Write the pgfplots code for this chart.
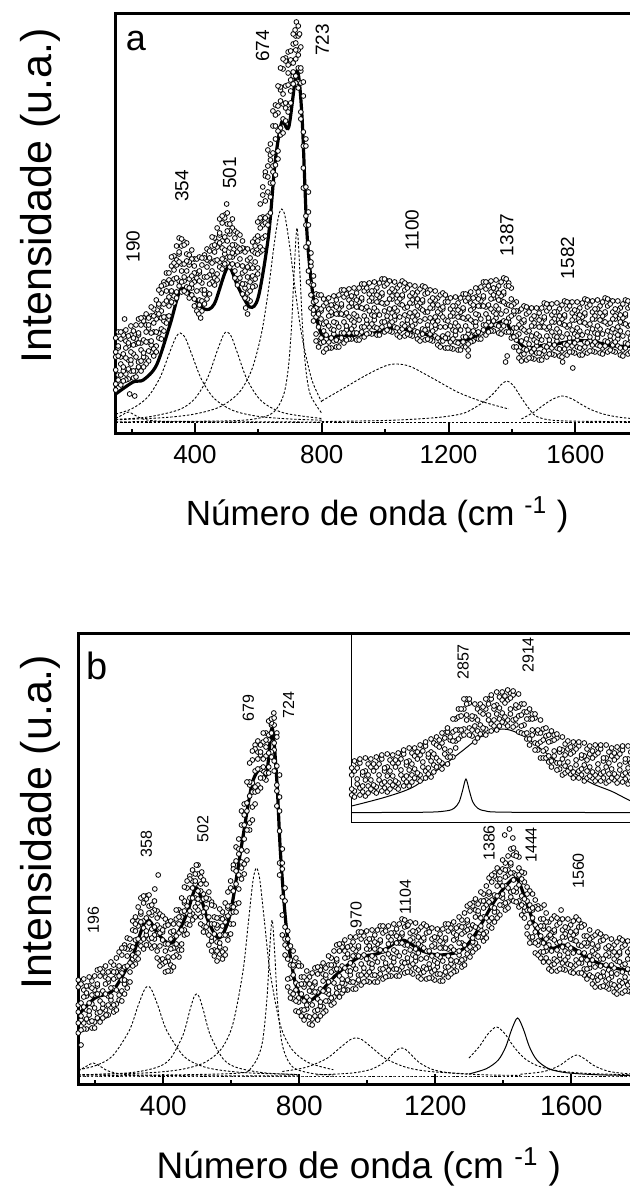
\documentclass[border=0pt]{standalone}
\usepackage{pgfplots}
\pgfplotsset{compat=1.18}
\usepackage{pgfplotstable}
\usepackage{fontspec}
\setmainfont{Liberation Sans}

% ---------------- panel a scatter ----------------
\pgfplotstableread{
x a b c d e f
150 50 77 96 82 64 44
158 86 59 102 54 88 78
166 70 95 49 77 59 102
174 102 67 80 63 99 53
182 60 93 76 104 54 86
190 88 55 98 74 91 65
198 70 108 74 99 63 82
206 103 80 63 56 89 96
214 63 90 109 95 77 57
222 99 72 115 67 101 91
230 84 109 63 91 73 116
238 116 81 94 77 113 67
246 76 109 92 120 70 102
254 106 73 116 92 109 83
262 89 127 93 118 82 101
270 125 102 85 78 111 118
278 88 115 134 120 102 82
286 128 101 144 96 130 120
294 116 141 95 123 105 148
302 152 117 130 113 149 103
310 117 150 133 161 111 143
318 151 118 161 137 154 128
326 139 177 143 168 132 151
334 178 155 138 131 164 171
342 142 169 188 174 156 136
350 180 153 196 148 182 172
358 163 188 142 170 152 195
366 192 157 170 153 189 143
374 147 180 163 191 141 173
382 169 136 179 155 172 146
390 146 184 150 175 139 158
398 175 152 135 128 161 168
406 129 156 175 161 143 123
414 161 134 177 129 163 153
422 144 169 123 151 133 176
430 179 144 157 140 176 130
438 141 174 157 185 135 167
446 173 140 183 159 176 150
454 159 197 163 188 152 171
462 196 173 156 149 182 189
470 160 187 206 192 174 154
478 199 172 215 167 201 191
486 186 211 165 193 175 218
494 219 184 197 180 216 170
502 177 210 193 221 171 203
510 200 167 210 186 203 177
518 177 215 181 206 170 189
526 203 180 163 156 189 196
534 155 182 201 187 169 149
542 183 156 199 151 185 175
550 161 186 140 168 150 193
558 185 150 163 146 182 136
566 141 174 157 185 135 167
574 166 133 176 152 169 143
582 154 192 158 183 147 166
590 195 172 155 148 181 188
598 166 193 212 198 180 160
606 214 187 230 182 216 206
614 209 239 184 217 196 247
622 262 216 233 211 258 198
630 218 268 242 284 209 257
638 274 221 290 251 279 237
646 262 323 268 308 251 281
654 329 295 269 259 308 319
662 283 321 348 328 303 275
670 344 306 366 299 347 333
678 330 365 301 340 315 375
686 376 331 348 326 373 313
694 329 369 349 382 322 361
702 371 331 383 354 374 343
710 358 400 362 390 350 371
718 398 375 358 351 384 391
726 352 379 398 384 366 346
734 363 322 387 315 366 351
742 288 338 246 302 266 352
750 295 218 247 209 288 187
758 163 222 191 242 152 209
766 168 126 181 150 172 139
774 120 158 124 149 113 132
782 140 117 100 93 126 133
790 93 120 139 125 107 87
798 123 96 139 91 125 115
806 103 128 82 110 92 135
814 134 99 112 95 131 85
822 92 125 108 136 86 118
830 119 86 129 105 122 96
838 100 138 104 129 93 112
846 134 111 94 87 120 127
854 93 120 139 125 107 87
862 128 101 144 96 130 120
870 112 137 91 119 101 144
878 143 108 121 104 140 94
886 101 134 117 145 95 127
894 128 95 138 114 131 105
902 108 146 112 137 101 120
910 141 118 101 94 127 134
918 100 127 146 132 114 94
926 134 107 150 102 136 126
934 118 143 97 125 107 150
942 149 114 127 110 146 100
950 107 140 123 151 101 133
958 133 100 143 119 136 110
966 114 152 118 143 107 126
974 146 123 106 99 132 139
982 105 132 151 137 119 99
990 139 112 155 107 141 131
998 123 148 102 130 112 155
1006 153 118 131 114 150 104
1014 109 142 125 153 103 135
1022 135 102 145 121 138 112
1030 114 152 118 143 107 126
1038 146 123 106 99 132 139
1046 103 130 149 135 117 97
1054 137 110 153 105 139 129
1062 119 144 98 126 108 151
1070 149 114 127 110 146 100
1078 105 138 121 149 99 131
1086 131 98 141 117 134 108
1094 110 148 114 139 103 122
1102 142 119 102 95 128 135
1110 99 126 145 131 113 93
1118 132 105 148 100 134 124
1126 115 140 94 122 104 147
1134 144 109 122 105 141 95
1142 100 133 116 144 94 126
1150 126 93 136 112 129 103
1158 105 143 109 134 98 117
1166 136 113 96 89 122 129
1174 93 120 139 125 107 87
1182 125 98 141 93 127 117
1190 107 132 86 114 96 139
1198 135 100 113 96 132 86
1206 92 125 108 136 86 118
1214 118 85 128 104 121 95
1222 99 137 103 128 92 111
1230 131 108 91 84 117 124
1238 90 117 136 122 104 84
1246 124 97 140 92 126 116
1254 108 133 87 115 97 140
1262 139 104 117 100 136 90
1270 98 131 114 142 92 124
1278 126 93 136 112 129 103
1286 108 146 112 137 101 120
1294 142 119 102 95 128 135
1302 101 128 147 133 115 95
1310 136 109 152 104 138 128
1318 120 145 99 127 109 152
1326 151 116 129 112 148 102
1334 109 142 125 153 103 135
1342 136 103 146 122 139 113
1350 116 154 120 145 109 128
1358 148 125 108 101 134 141
1366 106 133 152 138 120 100
1374 140 113 156 108 142 132
1382 123 148 102 130 112 155
1390 151 116 129 112 148 102
1398 102 135 118 146 96 128
1406 120 87 130 106 123 97
1414 94 132 98 123 87 106
1422 123 100 83 76 109 116
1430 79 106 125 111 93 73
1438 112 85 128 80 114 104
1446 95 120 74 102 84 127
1454 125 90 103 86 122 76
1462 82 115 98 126 76 108
1470 108 75 118 94 111 85
1478 88 126 92 117 81 100
1486 121 98 81 74 107 114
1494 80 107 126 112 94 74
1502 115 88 131 83 117 107
1510 98 123 77 105 87 130
1518 129 94 107 90 126 80
1526 86 119 102 130 80 112
1534 112 79 122 98 115 89
1542 93 131 97 122 86 105
1550 125 102 85 78 111 118
1558 83 110 129 115 97 77
1566 117 90 133 85 119 109
1574 100 125 79 107 89 132
1582 131 96 109 92 128 82
1590 88 121 104 132 82 114
1598 114 81 124 100 117 91
1606 94 132 98 123 87 106
1614 126 103 86 79 112 119
1622 85 112 131 117 99 79
1630 119 92 135 87 121 111
1638 102 127 81 109 91 134
1646 132 97 110 93 129 83
1654 89 122 105 133 83 115
1662 115 82 125 101 118 92
1670 96 134 100 125 89 108
1678 128 105 88 81 114 121
1686 86 113 132 118 100 80
1694 120 93 136 88 122 112
1702 103 128 82 110 92 135
1710 133 98 111 94 130 84
1718 89 122 105 133 83 115
1726 115 82 125 101 118 92
1734 95 133 99 124 88 107
1742 126 103 86 79 112 119
1750 84 111 130 116 98 78
1758 118 91 134 86 120 110
1766 101 126 80 108 90 133
1774 131 96 109 92 128 82
}\scatA

% ---------------- panel b scatter ----------------
\pgfplotstableread{
x a b c d e f
150 73 98 52 80 62 105
158 104 69 82 65 101 55
166 62 95 78 106 56 88
174 89 56 99 75 92 66
182 70 108 74 99 63 82
190 104 81 64 57 90 97
198 63 90 109 95 77 57
206 99 72 115 67 101 91
214 84 109 63 91 73 116
222 116 81 94 77 113 67
230 75 108 91 119 69 101
238 103 70 113 89 106 80
246 85 123 89 114 78 97
254 120 97 80 73 106 113
262 81 108 127 113 95 75
270 117 90 133 85 119 109
278 105 130 84 112 94 137
286 140 105 118 101 137 91
294 103 136 119 147 97 129
302 136 103 146 122 139 113
310 126 164 130 155 119 138
318 168 145 128 121 154 161
326 132 159 178 164 146 126
334 171 144 187 139 173 163
342 157 182 136 164 146 189
350 189 154 167 150 186 140
358 146 179 162 190 140 172
366 170 137 180 156 173 147
374 146 184 150 175 139 158
382 174 151 134 127 160 167
390 125 152 171 157 139 119
398 153 126 169 121 155 145
406 134 159 113 141 123 166
414 163 128 141 124 160 114
422 120 153 136 164 114 146
430 151 118 161 137 154 128
438 137 175 141 166 130 149
446 175 152 135 128 161 168
454 141 168 187 173 155 135
462 182 155 198 150 184 174
470 172 197 151 179 161 204
478 209 174 187 170 206 160
486 171 204 187 215 165 197
494 201 168 211 187 204 178
502 182 220 186 211 175 194
510 208 185 168 161 194 201
518 159 186 205 191 173 153
526 185 158 201 153 187 177
534 161 186 140 168 150 193
542 183 148 161 144 180 134
550 135 168 151 179 129 161
558 157 124 167 143 160 134
566 138 176 142 167 131 150
574 173 150 133 126 159 166
582 136 163 182 168 150 130
590 177 150 193 145 179 169
598 172 197 151 179 161 204
606 220 178 194 173 216 161
614 181 224 201 238 173 214
622 231 182 246 210 236 196
630 217 274 223 260 206 235
638 281 246 221 211 260 270
646 234 274 303 282 255 225
654 300 262 322 255 303 289
662 293 325 265 302 278 334
670 340 298 314 293 336 281
678 300 333 316 344 294 326
686 330 297 340 316 333 307
694 314 352 318 343 307 326
702 352 329 312 305 338 345
710 318 345 364 350 332 312
718 360 333 366 328 362 352
726 335 360 314 342 324 367
734 352 300 319 294 348 279
742 222 288 254 310 210 274
750 216 150 236 188 222 170
758 140 197 146 184 130 158
766 154 126 106 98 137 146
774 93 120 139 125 107 87
782 118 91 134 86 120 110
790 95 120 74 102 84 127
798 122 87 100 83 119 73
806 75 108 91 119 69 101
814 98 65 108 84 101 75
822 76 114 80 105 69 88
830 108 85 68 61 94 101
838 66 93 112 98 80 60
846 101 74 117 69 103 93
854 86 111 65 93 75 118
862 118 83 96 79 115 69
870 78 111 94 122 72 104
878 107 74 117 93 110 84
886 91 129 95 120 84 103
894 127 104 87 80 113 120
902 88 115 134 120 102 82
910 124 97 140 92 126 116
918 109 134 88 116 98 141
926 141 106 119 102 138 92
934 101 134 117 145 95 127
942 128 95 138 114 131 105
950 110 148 114 139 103 122
958 143 120 103 96 129 136
966 102 129 148 134 116 96
974 137 110 153 105 139 129
982 121 146 100 128 110 153
990 152 117 130 113 149 103
998 110 143 126 154 104 136
1006 136 103 146 122 139 113
1014 117 155 121 146 110 129
1022 150 127 110 103 136 143
1030 109 136 155 141 123 103
1038 143 116 159 111 145 135
1046 127 152 106 134 116 159
1054 157 122 135 118 154 108
1062 115 148 131 159 109 141
1070 142 109 152 128 145 119
1078 123 161 127 152 116 135
1086 156 133 116 109 142 149
1094 115 142 161 147 129 109
1102 150 123 166 118 152 142
1110 133 158 112 140 122 165
1118 162 127 140 123 159 113
1126 119 152 135 163 113 145
1134 144 111 154 130 147 121
1142 124 162 128 153 117 136
1150 155 132 115 108 141 148
1158 112 139 158 144 126 106
1166 145 118 161 113 147 137
1174 127 152 106 134 116 159
1182 156 121 134 117 153 107
1190 113 146 129 157 107 139
1198 138 105 148 124 141 115
1206 118 156 122 147 111 130
1214 151 128 111 104 137 144
1222 110 137 156 142 124 104
1230 145 118 161 113 147 137
1238 129 154 108 136 118 161
1246 160 125 138 121 157 111
1254 119 152 135 163 113 145
1262 147 114 157 133 150 124
1270 130 168 134 159 123 142
1278 165 142 125 118 151 158
1286 126 153 172 158 140 120
1294 163 136 179 131 165 155
1302 149 174 128 156 138 181
1310 182 147 160 143 179 133
1318 142 175 158 186 136 168
1326 171 138 181 157 174 148
1334 155 193 159 184 148 167
1342 191 168 151 144 177 184
1350 153 180 199 185 167 147
1358 191 164 207 159 193 183
1366 178 203 157 185 167 210
1374 212 177 190 173 209 163
1382 173 206 189 217 167 199
1390 203 170 213 189 206 180
1398 187 225 191 216 180 199
1406 222 199 182 175 208 215
1414 183 210 229 215 197 177
1422 220 193 236 188 222 212
1430 205 230 184 212 194 237
1438 232 197 210 193 229 183
1446 184 217 200 228 178 210
1454 203 170 213 189 206 180
1462 174 212 178 203 167 186
1470 198 175 158 151 184 191
1478 148 175 194 180 162 142
1486 175 148 191 143 177 167
1494 153 178 132 160 142 185
1502 179 144 157 140 176 130
1510 133 166 149 177 127 159
1518 156 123 166 142 159 133
1526 134 172 138 163 127 146
1534 163 140 123 116 149 156
1542 120 147 166 152 134 114
1550 153 126 169 121 155 145
1558 135 160 114 142 124 167
1566 165 130 143 126 162 116
1574 122 155 138 166 116 148
1582 148 115 158 134 151 125
1590 128 166 132 157 121 140
1598 160 137 120 113 146 153
1606 118 145 164 150 132 112
1614 152 125 168 120 154 144
1622 133 158 112 140 122 165
1630 161 126 139 122 158 112
1638 116 149 132 160 110 142
1646 139 106 149 125 142 116
1654 117 155 121 146 110 129
1662 148 125 108 101 134 141
1670 104 131 150 136 118 98
1678 137 110 153 105 139 129
1686 119 144 98 126 108 151
1694 148 113 126 109 145 99
1702 104 137 120 148 98 130
1710 129 96 139 115 132 106
1718 108 146 112 137 101 120
1726 140 117 100 93 126 133
1734 97 124 143 129 111 91
1742 131 104 147 99 133 123
1750 113 138 92 120 102 145
1758 143 108 121 104 140 94
1766 100 133 116 144 94 126
1774 126 93 136 112 129 103
}\scatB

% ---------------- inset scatter ----------------
\pgfplotstableread{
x a b c d
2690 28 55 48 34
2694 52 26 32 62
2698 60 39 44 55
2702 35 64 60 28
2706 48 31 37 51
2710 27 52 65 43
2714 59 37 30 48
2718 43 64 56 34
2722 32 59 52 38
2726 56 30 36 66
2730 64 43 48 59
2734 39 68 64 32
2738 52 35 41 55
2742 31 56 69 47
2746 63 41 34 52
2750 47 68 60 38
2754 36 63 56 42
2758 60 34 40 70
2762 69 48 53 64
2766 44 73 69 37
2770 58 41 47 61
2774 37 62 75 53
2778 70 48 41 59
2782 54 75 67 45
2786 44 71 64 50
2790 68 42 48 78
2794 77 56 61 72
2798 52 81 77 45
2802 66 49 55 69
2806 46 71 84 62
2810 80 58 51 69
2814 65 86 78 56
2818 56 83 76 62
2822 80 54 60 90
2826 90 69 74 85
2830 66 95 91 59
2834 83 66 72 86
2838 66 91 104 82
2842 104 82 75 93
2846 93 114 106 84
2850 87 114 107 93
2854 114 88 94 124
2858 124 103 108 119
2862 95 124 120 88
2866 104 87 93 107
2870 81 106 119 97
2874 114 92 85 103
2878 98 119 111 89
2882 89 116 109 95
2886 114 88 94 124
2890 124 103 108 119
2894 99 128 124 92
2898 114 97 103 117
2902 93 118 131 109
2906 126 104 97 115
2910 110 131 123 101
2914 100 127 120 106
2918 123 97 103 133
2922 130 109 114 125
2926 103 132 128 96
2930 115 98 104 118
2934 91 116 129 107
2938 119 97 90 108
2942 98 119 111 89
2946 84 111 104 90
2950 104 78 84 114
2954 109 88 93 104
2958 80 109 105 73
2962 90 73 79 93
2966 65 90 103 81
2970 94 72 65 83
2974 74 95 87 65
2978 61 88 81 67
2982 82 56 62 92
2986 88 67 72 83
2990 60 89 85 53
2994 71 54 60 74
2998 48 73 86 64
3002 79 57 50 68
3006 61 82 74 52
3010 49 76 69 55
3014 71 45 51 81
3018 79 58 63 74
3022 52 81 77 45
3026 65 48 54 68
3030 42 67 80 58
3034 74 52 45 63
3038 56 77 69 47
3042 45 72 65 51
3046 68 42 48 78
3050 75 54 59 70
3054 49 78 74 42
3058 62 45 51 65
3062 40 65 78 56
3066 71 49 42 60
3070 54 75 67 45
3074 43 70 63 49
3078 66 40 46 76
3082 74 53 58 69
3086 48 77 73 41
3090 61 44 50 64
3094 39 64 77 55
3098 71 49 42 60
3102 54 75 67 45
3106 43 70 63 49
3110 66 40 46 76
}\scatI

\pgfplotsset{
  mainax/.style={
    scale only axis, xmin=150, xmax=1800, ymin=0,
    axis line style={line width=1.5pt},
    xtick={400,800,1200,1600}, minor xtick={200,600,1000,1400},
    ytick=\empty, xtick pos=left, tick align=inside,
    major tick length=5.3pt, minor tick length=2.6pt,
    every tick/.style={black, line width=1pt},
    /pgf/number format/assume math mode=true,
    /pgf/number format/1000 sep={},
    xlabel={Número de onda (cm \textsuperscript{-1} )},
    ylabel={Intensidade (u.a.)},
    every axis y label/.style={rotate=90, anchor=center, font=\fontsize{21.5}{24}\selectfont},
  },
  pts/.style={only marks, mark=*, mark size=1.2pt,
              mark options={fill=white, draw=black, line width=0.4pt}},
  comp/.style={no marks, black, line width=0.45pt, dash pattern=on 1.2pt off 0.9pt, smooth},
  fitl/.style={no marks, black, line width=1.6pt, smooth},
  thin/.style={no marks, black, line width=0.5pt, smooth},
}

\begin{document}
\begin{tikzpicture}

% ======================= panel a =======================
\begin{axis}[mainax, at={(57.85pt,376pt)}, anchor=south west,
  width=261.5pt, height=210.35pt, ymax=420.7,
  xticklabel style={font=\fontsize{13}{15}\selectfont, yshift=-2pt},
  xlabel style={at={(axis description cs:0.5,0)}, anchor=base, yshift=-46pt,
                font=\fontsize{17.5}{20}\selectfont},
  every axis y label/.append style={at={(axis description cs:-0.1447,0.566)}}]
\addplot[comp] coordinates {(150,12) (1800,12)};
\addplot[comp] coordinates {(150,15.6) (170,18.9) (190,22) (210,18.9) (240,14.6) (300,12.7) (500,12.2) (800,12)};
\addplot[comp] coordinates {(150,19.9) (200,25.1) (250,36.5) (290,56.5) (320,81.4) (340,96.9) (354,101) (370,95.8) (390,79.6) (420,55.1) (460,35.8) (520,23.5) (600,17.6) (700,15) (800,13.8)};
\addplot[comp] coordinates {(150,14.6) (250,16.9) (350,24.3) (400,35.5) (440,56.2) (470,83) (490,99.1) (501,102) (515,97.4) (535,80.1) (565,54.1) (610,32.9) (680,21.1) (800,15.5)};
\addplot[comp] coordinates {(150,14.2) (300,16.3) (400,20) (480,27.3) (540,41.7) (580,64.9) (610,100.6) (630,140) (650,189.8) (664,218) (674,225) (684,218) (698,189.8) (718,140) (738,97) (768,55) (800,32)};
\addplot[comp] coordinates {(150,12.2) (500,13.1) (600,15.7) (650,22.3) (680,39.3) (695,67.1) (705,109) (712,156) (722,206) (732,156) (739,109) (749,67.1) (764,39.3) (800,20.8)};
\addplot[comp] coordinates {(800,33) (870,45.9) (940,58.8) (1000,68) (1037,70) (1080,67.4) (1150,55.7) (1230,41.7) (1310,32) (1390,25)};
\addplot[comp] coordinates {(800,12.4) (1000,13.5) (1100,15) (1180,17) (1250,21) (1306,31) (1340,40) (1365,49) (1384,53) (1403,49) (1428,37) (1450,27) (1475,18) (1520,14) (1600,12.8) (1800,12.3)};
\addplot[comp] coordinates {(1430,15) (1470,22) (1500,29) (1530,35) (1560,38) (1590,35) (1620,29.4) (1650,24.3) (1690,19.8) (1740,16.7) (1800,14.9)};
\addplot[pts] table[x=x,y=a] {\scatA};
\addplot[pts] table[x=x,y=d] {\scatA};
\addplot[pts] table[x=x,y=b] {\scatA};
\addplot[pts] table[x=x,y=e] {\scatA};
\addplot[pts] table[x=x,y=c] {\scatA};
\addplot[pts] table[x=x,y=f] {\scatA};
\addplot[pts] coordinates {(720,412) (726,408) (716,404) (730,400) (178,115) (194,40) (210,38) (412,120) (418,116) (560,126) (566,120) (500,230) (1380,72) (1385,78) (1262,78) (1262,84) (1560,72) (1592,66)};
\addplot[fitl] coordinates {(150,40) (205,52) (237,54) (279,69) (322,110) (354,144) (386,140) (429,125) (461,130) (504,167) (536,147) (573,127) (600,137) (632,198) (653,272) (674,312) (696,307) (722,363) (738,316) (754,198) (776,130) (802,98) (845,98) (952,100) (1027,106) (1112,101) (1219,93) (1272,96) (1326,106) (1379,113) (1400,100) (1443,86) (1486,88) (1539,90) (1593,93) (1646,93) (1721,88) (1800,88)};
\begin{scope}[every node/.style={rotate=90, font=\fontsize{9.5}{11}\selectfont}]
\node at (axis cs:205,187.5) {190};
\node at (axis cs:359,248) {354};
\node at (axis cs:509,261) {501};
\node at (axis cs:613,388) {674};
\node at (axis cs:802,394) {723};
\node at (axis cs:1085,204) {1100};
\node at (axis cs:1384,199) {1387};
\node at (axis cs:1576,176) {1582};
\end{scope}
\node[font=\fontsize{18}{20}\selectfont] at (axis description cs:0.0388,0.933) {a};
\end{axis}

% ======================= panel b =======================
\begin{axis}[mainax, at={(39.15pt,50.5pt)}, anchor=south west,
  width=280.5pt, height=225.5pt, ymax=451,
  xticklabel style={font=\fontsize{14}{16}\selectfont, yshift=-2pt},
  xlabel style={at={(axis description cs:0.5,0)}, anchor=base, yshift=-46.5pt,
                font=\fontsize{18.5}{21}\selectfont},
  every axis y label/.append style={at={(axis description cs:-0.0683,0.583)}}]
\addplot[comp] coordinates {(150,9) (1800,9)};
\addplot[comp] coordinates {(150,14) (175,19) (194,22) (213,19) (240,13.8) (300,10.3) (500,9.2) (800,9.1)};
\addplot[comp] coordinates {(150,15.2) (200,19.3) (250,28.8) (300,54.5) (325,78.5) (345,95.7) (355,98.5) (365,95.7) (385,78.5) (410,54.5) (460,28.8) (510,19.3) (560,15.2) (650,12.1) (800,10.4)};
\addplot[comp] coordinates {(150,10.1) (300,12.2) (380,17.5) (420,26.1) (458,50) (478,74.6) (490,87.8) (498,91) (506,87.8) (518,74.6) (538,50) (576,26.1) (616,17.5) (696,12.2) (800,10.4)};
\addplot[comp] coordinates {(150,10.2) (350,12.1) (450,15.4) (520,22.2) (570,35.8) (604,60.2) (634,113) (650,161.9) (664,204.8) (674,217) (684,204.8) (698,161.9) (714,113) (744,60.2) (778,35.8) (828,22.2) (900,15.3)};
\addplot[comp] coordinates {(150,9.1) (600,11.4) (660,18.2) (690,40.2) (705,87) (712,130.5) (720,165) (728,130.5) (735,87) (750,40.2) (780,18.2) (840,11.4) (900,10.1)};
\addplot[comp] coordinates {(750,13.5) (820,17.7) (880,26.4) (920,37.3) (950,45.4) (967,47) (984,45.4) (1014,37.3) (1054,26.4) (1114,17.7) (1184,13.5) (1300,11.1)};
\addplot[comp] coordinates {(850,10.1) (950,11.8) (1010,15.5) (1050,22.7) (1075,31) (1090,35.7) (1101,37) (1112,35.7) (1127,31) (1152,22.7) (1192,15.5) (1252,11.8) (1352,10.1) (1450,9.6)};
\addplot[comp] coordinates {(1299,27) (1330,38.7) (1355,51.1) (1380,58) (1405,51.1) (1430,38.7) (1461,27) (1500,19.3) (1560,14.2) (1650,11.5) (1775,10.2) (1800,10.1)};
\addplot[thin] coordinates {(1299,11) (1350,16.3) (1385,24.9) (1407,38) (1425,55.9) (1442,67) (1459,55.9) (1477,38) (1499,24.9) (1534,16.3) (1585,12.3) (1680,10.2) (1800,9.5)};
\addplot[comp] coordinates {(1450,10.75) (1520,13.5) (1566,19.5) (1590,25.5) (1616,30) (1642,25.5) (1666,19.5) (1712,13.5) (1782,10.75) (1800,10.6)};
\addplot[pts] table[x=x,y=a] {\scatB};
\addplot[pts] table[x=x,y=d] {\scatB};
\addplot[pts] table[x=x,y=b] {\scatB};
\addplot[pts] table[x=x,y=e] {\scatB};
\addplot[pts] table[x=x,y=c] {\scatB};
\addplot[pts] table[x=x,y=f] {\scatB};
\addplot[pts] coordinates {(725,372) (1404,250) (1418,256) (1428,247) (1520,180) (1538,150) (158,40) (232,70) (375,196) (385,210) (497,220) (513,213) (930,95) (1120,160) (1570,175)};
\addplot[fitl] coordinates {(150,70) (199,87) (253,95) (307,127) (350,165) (387,150) (425,142) (468,170) (498,197) (532,164) (564,147) (596,170) (629,237) (661,301) (688,317) (704,311) (720,357) (734,304) (745,230) (763,154) (790,100) (822,84) (854,90) (908,110) (972,127) (1036,132) (1101,145) (1155,135) (1208,130) (1273,134) (1316,150) (1380,187) (1434,207) (1461,190) (1499,154) (1541,137) (1573,140) (1605,137) (1648,127) (1702,119) (1775,114) (1800,113)};
\begin{scope}[every node/.style={rotate=90, font=\fontsize{8}{10}\selectfont}]
\node at (axis cs:194,165) {196};
\node at (axis cs:350,241) {358};
\node at (axis cs:516,256) {502};
\node at (axis cs:650,377) {679};
\node at (axis cs:768,380) {724};
\node at (axis cs:967,170) {970};
\node at (axis cs:1112,188) {1104};
\node at (axis cs:1358,242) {1386};
\node at (axis cs:1482,240) {1444};
\node at (axis cs:1621,214) {1560};
\end{scope}
\node[font=\fontsize{19}{21}\selectfont] at (axis description cs:0.0333,0.929) {b};
\end{axis}

% ======================= inset =======================
\begin{axis}[at={(175.85pt,181.5pt)}, anchor=south west, scale only axis,
  width=143.65pt, height=94.85pt, xmin=2690, xmax=3110, ymin=0, ymax=189.7,
  xtick=\empty, ytick=\empty, axis line style={line width=0.5pt}]
\addplot[pts] table[x=x,y=a] {\scatI};
\addplot[pts] table[x=x,y=c] {\scatI};
\addplot[pts] table[x=x,y=b] {\scatI};
\addplot[pts] table[x=x,y=d] {\scatI};
\addplot[thin] coordinates {(2690,17) (2740,26) (2780,36) (2820,55.4) (2850,71.2) (2880,86.7) (2911,94) (2940,87.6) (2970,72.3) (3000,56.4) (3040,40) (3070,31.7) (3098,22) (3110,20)};
\addplot[thin] coordinates {(2690,10.4) (2800,10.8) (2830,12.3) (2840,14.9) (2847,21) (2852,32.2) (2857,44) (2862,32.2) (2867,21) (2874,14.9) (2884,12.3) (2914,10.8) (3110,10.4)};
\begin{scope}[every node/.style={rotate=90, font=\fontsize{8}{10}\selectfont}]
\node at (axis cs:2853,161) {2857};
\node at (axis cs:2948,168) {2914};
\end{scope}
\end{axis}

\pgfresetboundingbox
\useasboundingbox (0pt,0pt) rectangle (315pt,593pt);
\end{tikzpicture}
\end{document}
